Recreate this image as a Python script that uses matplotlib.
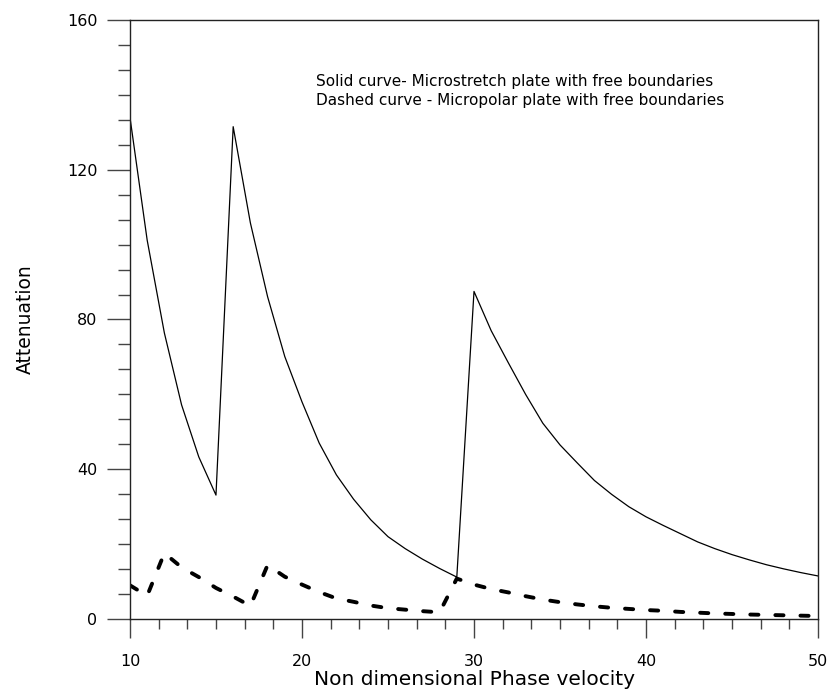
import matplotlib
matplotlib.use('Agg')

import matplotlib.pyplot as plt
from matplotlib.ticker import MultipleLocator

# Faz hızı (boyutsuz)
x = list(range(10, 51))

# Düz eğri - mikrogerilmeli levha
solid = [134.0, 101.2, 76.4, 57.2, 43.3, 33.1,
         131.5, 105.8, 86.1, 70.1, 58.0, 47.0, 38.5, 32.0, 26.5, 22.0,
         18.8, 16.0, 13.5, 11.2,
         87.5, 77.0, 68.4, 60.0, 52.3, 46.5, 41.7, 37.0, 33.3, 30.0,
         27.3, 25.0, 22.8, 20.6, 18.8, 17.2, 15.8, 14.5, 13.4, 12.4, 11.5]

# Kesikli eğri - mikropolar levha
dashed = [9.0, 6.2, 17.6, 13.8, 11.2, 8.3, 6.0, 3.5,
          14.4, 11.3, 9.2, 7.2, 5.5, 4.6, 3.6, 2.9, 2.5, 2.1, 1.8,
          10.8, 9.2, 8.0, 7.1, 6.1, 5.2, 4.5, 3.9, 3.4, 3.0, 2.7,
          2.4, 2.2, 1.9, 1.7, 1.5, 1.35, 1.2, 1.1, 1.0, 0.9, 0.8]

fig = plt.figure(figsize=(8.31, 6.96), dpi=100)
ax = fig.add_axes([0.1564, 0.1106, 0.828, 0.8607])

ax.plot(x, solid, color='black', linewidth=0.9)
ax.plot(x, dashed, color='black', linewidth=2.8, dashes=(2.1, 4.35),
        dash_capstyle='round')

ax.set_xlim(10, 50)
ax.set_ylim(0, 160)
ax.xaxis.set_major_locator(MultipleLocator(10))
ax.xaxis.set_minor_locator(MultipleLocator(10 / 6))
ax.yaxis.set_major_locator(MultipleLocator(40))
ax.yaxis.set_minor_locator(MultipleLocator(40 / 6))

ax.tick_params(axis='x', which='major', length=14, width=1, pad=11,
               labelsize=11.5, color='#444444')
ax.tick_params(axis='x', which='minor', length=7, width=1, color='#444444')
ax.tick_params(axis='y', which='major', length=16.5, width=1, pad=7,
               labelsize=11.5, color='#444444')
ax.tick_params(axis='y', which='minor', length=8.5, width=1, color='#444444')

for s in ax.spines.values():
    s.set_linewidth(1)
    s.set_color('#222222')

ax.set_xlabel('Non dimensional Phase velocity', fontsize=14.5, labelpad=1)
ax.set_ylabel('Attenuation', fontsize=13.5, labelpad=23)

ax.text(20.8, 143.5, 'Solid curve- Microstretch plate with free boundaries',
        fontsize=11.0, va='center', ha='left')
ax.text(20.8, 138.6, 'Dashed curve - Micropolar plate with free boundaries',
        fontsize=11.0, va='center', ha='left')

plt.savefig('out.png', dpi=100)
